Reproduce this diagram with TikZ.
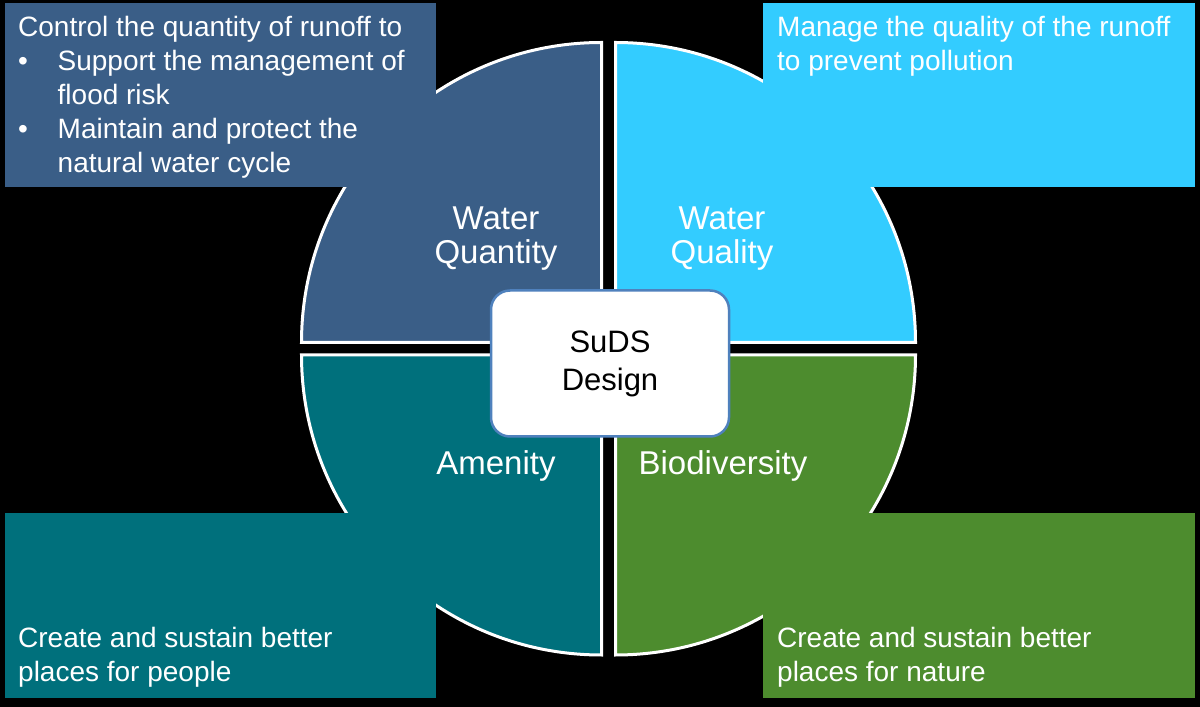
\documentclass[tikz,border=0pt]{standalone}
\usepackage{fontspec}
\setmainfont{Liberation Sans}
\definecolor{cqty}{RGB}{58,94,135}
\definecolor{cqual}{RGB}{51,204,255}
\definecolor{camen}{RGB}{0,112,124}
\definecolor{cbio}{RGB}{77,140,46}
\definecolor{cborder}{RGB}{79,129,189}
\begin{document}
\begin{tikzpicture}[x=1pt,y=1pt,
  quad/.style={draw=white,line width=3pt},
  infobox/.style={draw=none,minimum width=431pt,minimum height=184pt,inner sep=0pt,anchor=north west},
  boxtext/.style={text=white,align=left,inner sep=0pt,anchor=north west,font=\fontsize{28}{34}\selectfont},
  qlabel/.style={text=white,align=center,inner sep=0pt,font=\fontsize{33}{34}\selectfont},
  centerbox/.style={draw=cborder,line width=2.5pt,fill=white,rounded corners=19pt,minimum width=238pt,minimum height=146pt,align=center,text=black,font=\fontsize{31}{38}\selectfont}]
\useasboundingbox (0,0) rectangle (1200,707);
\fill[black] (0,0) rectangle (1200,707);
% quadrants
\filldraw[quad,fill=cqty] (601.5,364.5) -- (301.5,364.5) arc[start angle=180,end angle=90,radius=300] -- cycle;
\filldraw[quad,fill=cqual] (615.5,364.5) -- (615.5,664.5) arc[start angle=90,end angle=0,radius=300] -- cycle;
\filldraw[quad,fill=camen] (601.5,352) -- (301.5,352) arc[start angle=180,end angle=270,radius=300] -- cycle;
\filldraw[quad,fill=cbio] (615.5,352) -- (915.5,352) arc[start angle=0,end angle=-90,radius=300] -- cycle;
% info boxes
\node[infobox,fill=cqty] (tlbox) at (5,704) {};
\node[infobox,fill=cqual,minimum width=432pt] (trbox) at (763,704) {};
\node[infobox,fill=camen,minimum height=185pt] (blbox) at (5,194) {};
\node[infobox,fill=cbio,minimum width=432pt,minimum height=185pt] (brbox) at (763,194) {};
% box texts
\node[boxtext] (tltext) at (18,690.5) {Control the quantity of runoff to\\
\makebox[39.5pt][l]{•}Support the management of\\
\hspace*{39.5pt}flood risk\\
\makebox[39.5pt][l]{•}Maintain and protect the\\
\hspace*{39.5pt}natural water cycle};
\node[boxtext] (trtext) at (777,690.5) {Manage the quality of the runoff\\to prevent pollution};
\node[boxtext] (bltext) at (18,79.5) {Create and sustain better\\places for people};
\node[boxtext] (brtext) at (777,79.5) {Create and sustain better\\places for nature};
% quadrant labels
\node[qlabel,anchor=north] (qty) at (496,500.6) {Water\\Quantity};
\node[qlabel,anchor=north] (qual) at (722,500.6) {Water\\Quality};
\node[qlabel,anchor=base] (amen) at (496,232) {Amenity};
\node[qlabel,anchor=base] (bio) at (723,232) {Biodiversity};
% centre
\node[centerbox] (suds) at (610,343.5) {SuDS\\Design};
\end{tikzpicture}
\end{document}
